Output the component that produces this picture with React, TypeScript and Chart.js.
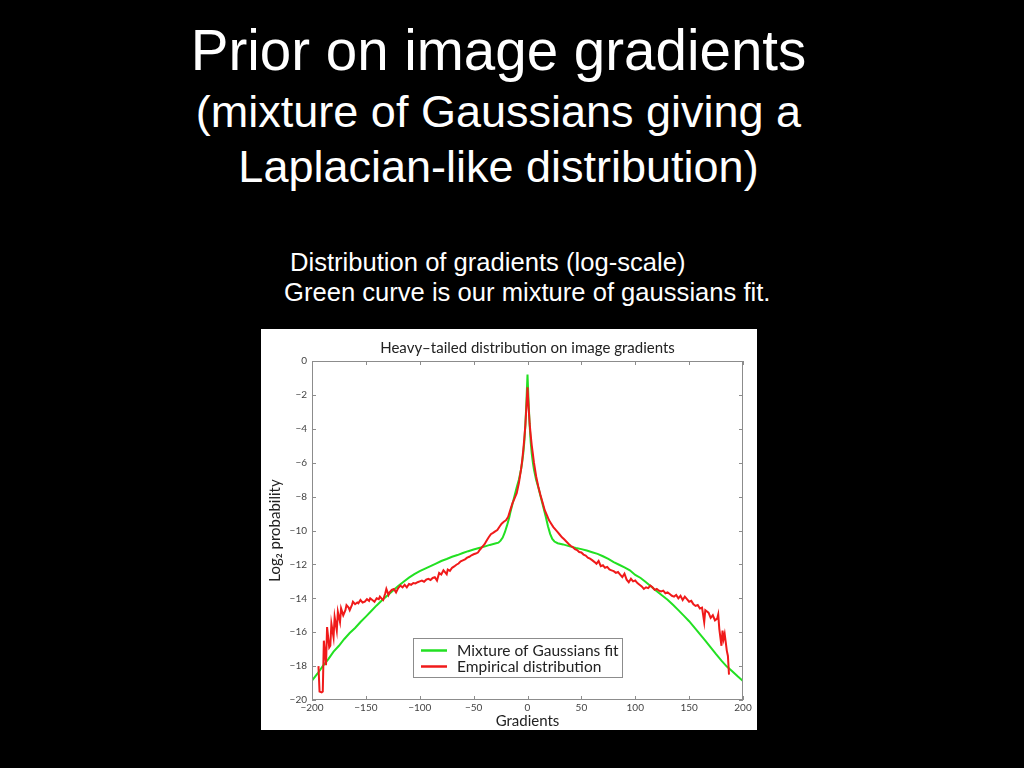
import React, { useEffect, useRef } from "react";
import { Chart, registerables } from "chart.js";

Chart.register(...registerables);

// ---------- data ----------
const xTickValues = [-200, -150, -100, -50, 0, 50, 100, 150, 200];
const yTickValues = [0, -2, -4, -6, -8, -10, -12, -14, -16, -18, -20];

const seriesLabels = ["Mixture of Gaussians fit", "Empirical distribution"];

// Mixture of Gaussians fit (green)
const fitX = [
  -200, -195, -190, -185, -180, -175, -170, -165, -160, -155, -150, -145, -140, -135, -130, -125,
  -120, -115, -110, -105, -100, -95, -90, -85, -80, -75, -70, -65, -60, -55, -50, -45, -40, -35,
  -30, -27, -25, -23, -21, -19, -17, -16, -14, -12, -10, -8, -6, -5, -4, -3, -2, -1, 0,
  1, 2, 3, 4, 5, 6, 8, 10, 12, 14, 16, 17, 19, 21, 23, 25, 28, 33, 40, 45, 50, 55, 60, 65, 70,
  75, 80, 85, 90, 95, 100, 105, 110, 115, 120, 125, 130, 135, 140, 145, 150, 155, 160, 165, 170,
  175, 180, 185, 190, 195, 200,
];
const fitY = [
  -18.85, -18.45, -18.0, -17.6, -17.15, -16.8, -16.4, -16.05, -15.75, -15.4, -15.08, -14.75, -14.42, -14.12, -13.83, -13.55,
  -13.28, -13.02, -12.78, -12.58, -12.4, -12.25, -12.1, -11.95, -11.8, -11.68, -11.55, -11.45, -11.33, -11.22, -11.12, -11.03, -10.95, -10.85,
  -10.77, -10.72, -10.6, -10.42, -10.1, -9.7, -9.25, -8.95, -8.45, -7.95, -7.45, -7.0, -6.4, -6.0, -5.5, -4.8, -3.8, -2.4, -0.8,
  -2.4, -3.8, -4.8, -5.5, -6.0, -6.4, -7.0, -7.45, -7.95, -8.45, -8.95, -9.2, -9.75, -10.2, -10.5, -10.65, -10.75, -10.82, -10.95, -11.03, -11.1, -11.18, -11.28, -11.38, -11.52,
  -11.68, -11.86, -12.02, -12.18, -12.35, -12.62, -12.8, -13.05, -13.32, -13.58, -13.84, -14.08, -14.38, -14.7, -15.02, -15.35, -15.73, -16.12, -16.5, -16.9,
  -17.3, -17.68, -18.03, -18.3, -18.6, -18.88,
];

// Empirical distribution (red)
const empX = [
  -194, -193, -191, -190, -189, -188, -187, -186, -185, -184, -183, -182, -181, -180, -179, -178,
  -177, -176, -175, -174, -173, -172, -171, -169, -168, -166, -165, -163, -162, -160, -158, -157,
  -155, -153, -151, -149, -147, -146, -144, -142, -140, -138, -137, -135, -134, -132, -131, -129,
  -128, -126, -124, -122, -120, -118, -116, -114, -112, -110, -108, -106, -104, -102, -100, -98,
  -96, -94, -92, -90, -88, -86, -84, -82, -80, -78, -76, -75, -74, -72, -70, -68, -66, -64, -62,
  -60, -58, -56, -54, -52, -50, -48, -46, -44, -42, -40, -38, -36, -34, -32, -30, -28, -26, -24,
  -22, -20, -18, -16, -14, -12, -10, -8, -6, -5, -4, -3, -2, -1, 0, 1, 2, 3, 4, 5, 6, 8, 10, 12,
  14, 16, 18, 20, 22, 24, 26, 28, 30, 32, 34, 36, 38, 40, 42, 44, 46, 48, 50, 52, 54, 56, 58, 60,
  62, 64, 66, 68, 70, 72, 74, 76, 78, 80, 82, 84, 86, 88, 90, 92, 94, 96, 98, 100, 102, 104, 106,
  108, 110, 112, 114, 116, 118, 120, 122, 124, 126, 128, 130, 132, 134, 136, 138, 140, 142, 144,
  146, 148, 150, 152, 154, 156, 158, 160, 162, 164, 165, 166, 168, 170, 172, 174, 176, 177, 178,
  179, 180, 181, 182, 183, 184, 185, 186, 187,
];
const empY = [
  -18.0, -19.5, -19.55, -19.5, -16.5, -17.2, -17.95, -15.7, -16.3, -16.9, -16.8, -15.5, -15.9, -16.3, -15.1, -15.5,
  -15.9, -14.8, -15.1, -15.4, -14.6, -14.8, -15.0, -14.7, -14.4, -14.55, -14.7, -14.4, -14.2, -14.35, -14.25, -14.3,
  -14.1, -14.25, -14.2, -14.05, -14.15, -14.0, -14.1, -14.2, -14.0, -14.05, -13.9, -14.05, -14.1, -13.7, -13.45, -13.8,
  -13.65, -13.5, -13.45, -13.65, -13.4, -13.25, -13.35, -13.2, -13.35, -13.15, -13.2, -13.1, -13.12, -13.05, -13.0, -12.95,
  -13.02, -12.9, -12.85, -12.92, -12.8, -12.75, -12.95, -12.5, -12.6, -12.35, -12.5, -12.58, -12.3, -12.38, -12.2, -12.12, -12.02, -11.95, -11.82,
  -11.76, -11.7, -11.6, -11.55, -11.46, -11.4, -11.36, -11.3, -11.12, -10.97, -10.82, -10.6, -10.4, -10.22, -10.14, -10.05, -9.97, -9.78, -9.6,
  -9.48, -9.4, -9.2, -8.8, -8.4, -8.1, -7.8, -7.2, -6.4, -5.9, -5.3, -4.6, -3.8, -2.7, -1.55, -2.7, -3.7, -4.4, -5.0, -5.5, -6.0, -6.8, -7.4, -7.9,
  -8.35, -8.8, -9.1, -9.4, -9.6, -9.8, -9.95, -10.1, -10.25, -10.4, -10.52, -10.65, -10.78, -10.9, -10.98, -11.1, -11.15, -11.27, -11.3, -11.42, -11.48, -11.6, -11.66, -11.75,
  -11.85, -11.96, -11.8, -12.1, -12.05, -12.2, -12.15, -12.3, -12.35, -12.4, -12.5, -12.45, -12.6, -12.75, -12.55, -12.9, -13.05, -12.85, -13.0, -12.95, -13.1, -13.2, -13.3,
  -13.45, -13.35, -13.4, -13.25, -13.35, -13.5, -13.45, -13.55, -13.6, -13.55, -13.7, -13.65, -13.75, -13.85, -13.9, -13.8, -14.0, -13.85, -14.1,
  -13.9, -14.05, -14.2, -14.15, -14.35, -14.45, -14.4, -14.6, -14.55, -15.4, -14.7, -14.75, -14.85, -15.15, -15.0, -15.3, -15.2, -14.95, -15.8,
  -16.3, -16.8, -15.9, -16.4, -16.1, -16.6, -17.1, -17.4, -18.5,
];

const GREEN = "#22e022";
const RED = "#f01a1a";
const AXIS_GRAY = "#8c8c8c";
const TEXT_DARK = "#222222";
const TICK_TEXT = "#444444";
const FONT = "Lato, 'Open Sans', sans-serif";

const fmt = (v: number | string) => {
  const n = Number(v);
  return n < 0 ? "\u2212" + Math.abs(n) : String(n);
};

const framePlugin = {
  id: "matlabFrame",
  afterDatasetsDraw(chart: any) {
    const { ctx, chartArea: a, scales } = chart;
    const xs = scales.x;
    const ys = scales.y;
    ctx.save();
    ctx.strokeStyle = AXIS_GRAY;
    ctx.lineWidth = 1;
    ctx.strokeRect(a.left + 0.5, a.top + 0.5, a.right - a.left - 1, a.bottom - a.top - 1);
    const L = 4;
    ctx.beginPath();
    xTickValues.forEach((v) => {
      const px = Math.round(xs.getPixelForValue(v)) + 0.5;
      ctx.moveTo(px, a.bottom);
      ctx.lineTo(px, a.bottom - L);
      ctx.moveTo(px, a.top);
      ctx.lineTo(px, a.top + L);
    });
    yTickValues.forEach((v) => {
      const py = Math.round(ys.getPixelForValue(v)) + 0.5;
      ctx.moveTo(a.left, py);
      ctx.lineTo(a.left + L, py);
      ctx.moveTo(a.right, py);
      ctx.lineTo(a.right - L, py);
    });
    ctx.stroke();

    // legend box inside the plot
    const bx = a.left + 101;
    const by = a.top + 277;
    const bw = 209;
    const bh = 39;
    ctx.fillStyle = "#ffffff";
    ctx.fillRect(bx, by, bw, bh);
    ctx.strokeStyle = AXIS_GRAY;
    ctx.strokeRect(bx + 0.5, by + 0.5, bw, bh);
    const rows = [by + 12.5, by + 28.5];
    ctx.font = `15.5px ${FONT}`;
    ctx.textBaseline = "middle";
    ctx.textAlign = "left";
    chart.data.datasets.forEach((ds: any, i: number) => {
      ctx.strokeStyle = ds.borderColor;
      ctx.lineWidth = 2.5;
      ctx.beginPath();
      ctx.moveTo(bx + 8, rows[i]);
      ctx.lineTo(bx + 34, rows[i]);
      ctx.stroke();
      ctx.fillStyle = TEXT_DARK;
      ctx.fillText(ds.label, bx + 44, rows[i]);
    });
    ctx.restore();
  },
};

function GradientChart() {
  const ref = useRef<HTMLCanvasElement | null>(null);
  useEffect(() => {
    if (!ref.current) return;
    const chart = new Chart(ref.current, {
      type: "line",
      data: {
        datasets: [
          {
            label: seriesLabels[0],
            data: fitX.map((x, i) => ({ x, y: fitY[i] })),
            borderColor: GREEN,
            borderWidth: 2,
            pointRadius: 0,
            tension: 0,
            order: 2,
          },
          {
            label: seriesLabels[1],
            data: empX.map((x, i) => ({ x, y: empY[i] })),
            borderColor: RED,
            borderWidth: 2,
            pointRadius: 0,
            tension: 0,
            order: 1,
          },
        ],
      },
      options: {
        responsive: false,
        animation: false,
        events: [],
        layout: { padding: { top: 0, right: 14, bottom: 0, left: 0 } },
        plugins: {
          legend: { display: false },
          tooltip: { enabled: false },
          title: {
            display: true,
            fullSize: false,
            text: "Heavy\u2013tailed distribution on image gradients",
            color: TEXT_DARK,
            font: { family: FONT, size: 15, weight: "normal" },
            padding: { top: 10, bottom: 4 },
          },
        },
        scales: {
          x: {
            type: "linear",
            min: -200,
            max: 200,
            grid: { display: false, drawTicks: false },
            border: { display: false },
            ticks: {
              stepSize: 50,
              padding: 2,
              maxRotation: 0,
              autoSkip: false,
              color: TICK_TEXT,
              font: { family: FONT, size: 10 },
              callback: (v: any) => fmt(v),
            },
            title: {
              display: true,
              text: "Gradients",
              color: TEXT_DARK,
              font: { family: FONT, size: 15 },
              padding: { top: 0, bottom: 0 },
            },
            afterFit: (s: any) => {
              s.height = 30;
            },
          },
          y: {
            type: "linear",
            min: -20,
            max: 0,
            grid: { display: false, drawTicks: false },
            border: { display: false },
            ticks: {
              stepSize: 2,
              padding: 5,
              autoSkip: false,
              color: TICK_TEXT,
              font: { family: FONT, size: 10 },
              callback: (v: any) => fmt(v),
            },
            title: {
              display: true,
              text: "Log\u2082 probability",
              color: TEXT_DARK,
              font: { family: FONT, size: 15 },
              padding: { top: 5, bottom: 0 },
            },
            afterFit: (s: any) => {
              s.width = 51;
            },
          },
        },
      },
      plugins: [framePlugin],
    } as any);
    return () => chart.destroy();
  }, []);
  return (
    <canvas
      ref={ref}
      width={496}
      height={401}
      style={{ position: "absolute", left: 261, top: 329, width: 496, height: 401, background: "#ffffff" }}
    />
  );
}

const slideFont = "'Liberation Sans', Arial, Helvetica, sans-serif";

export default function App() {
  const line = (text: string, top: number, size: number) => (
    <div
      style={{
        position: "absolute",
        left: 0,
        width: 997,
        top,
        textAlign: "center",
        fontSize: size,
        lineHeight: `${size}px`,
        whiteSpace: "nowrap",
        color: "#ffffff",
        fontFamily: slideFont,
      }}
    >
      {text}
    </div>
  );
  const sub = (text: string, left: number, top: number) => (
    <div
      style={{
        position: "absolute",
        left,
        top,
        fontSize: 25.6,
        lineHeight: "25.6px",
        whiteSpace: "nowrap",
        color: "#ffffff",
        fontFamily: slideFont,
      }}
    >
      {text}
    </div>
  );
  return (
    <div
      style={{
        position: "fixed",
        left: 0,
        top: 0,
        width: 1024,
        height: 768,
        background: "#000000",
        overflow: "hidden",
      }}
    >
      {line("Prior on image gradients", 22.6, 56.5)}
      {line("(mixture of Gaussians giving a", 88.6, 45)}
      {line("Laplacian-like distribution)", 143.6, 45)}
      {sub("Distribution of gradients (log-scale)", 290, 250)}
      {sub("Green curve is our mixture of gaussians fit.", 284, 280)}
      <GradientChart />
    </div>
  );
}
